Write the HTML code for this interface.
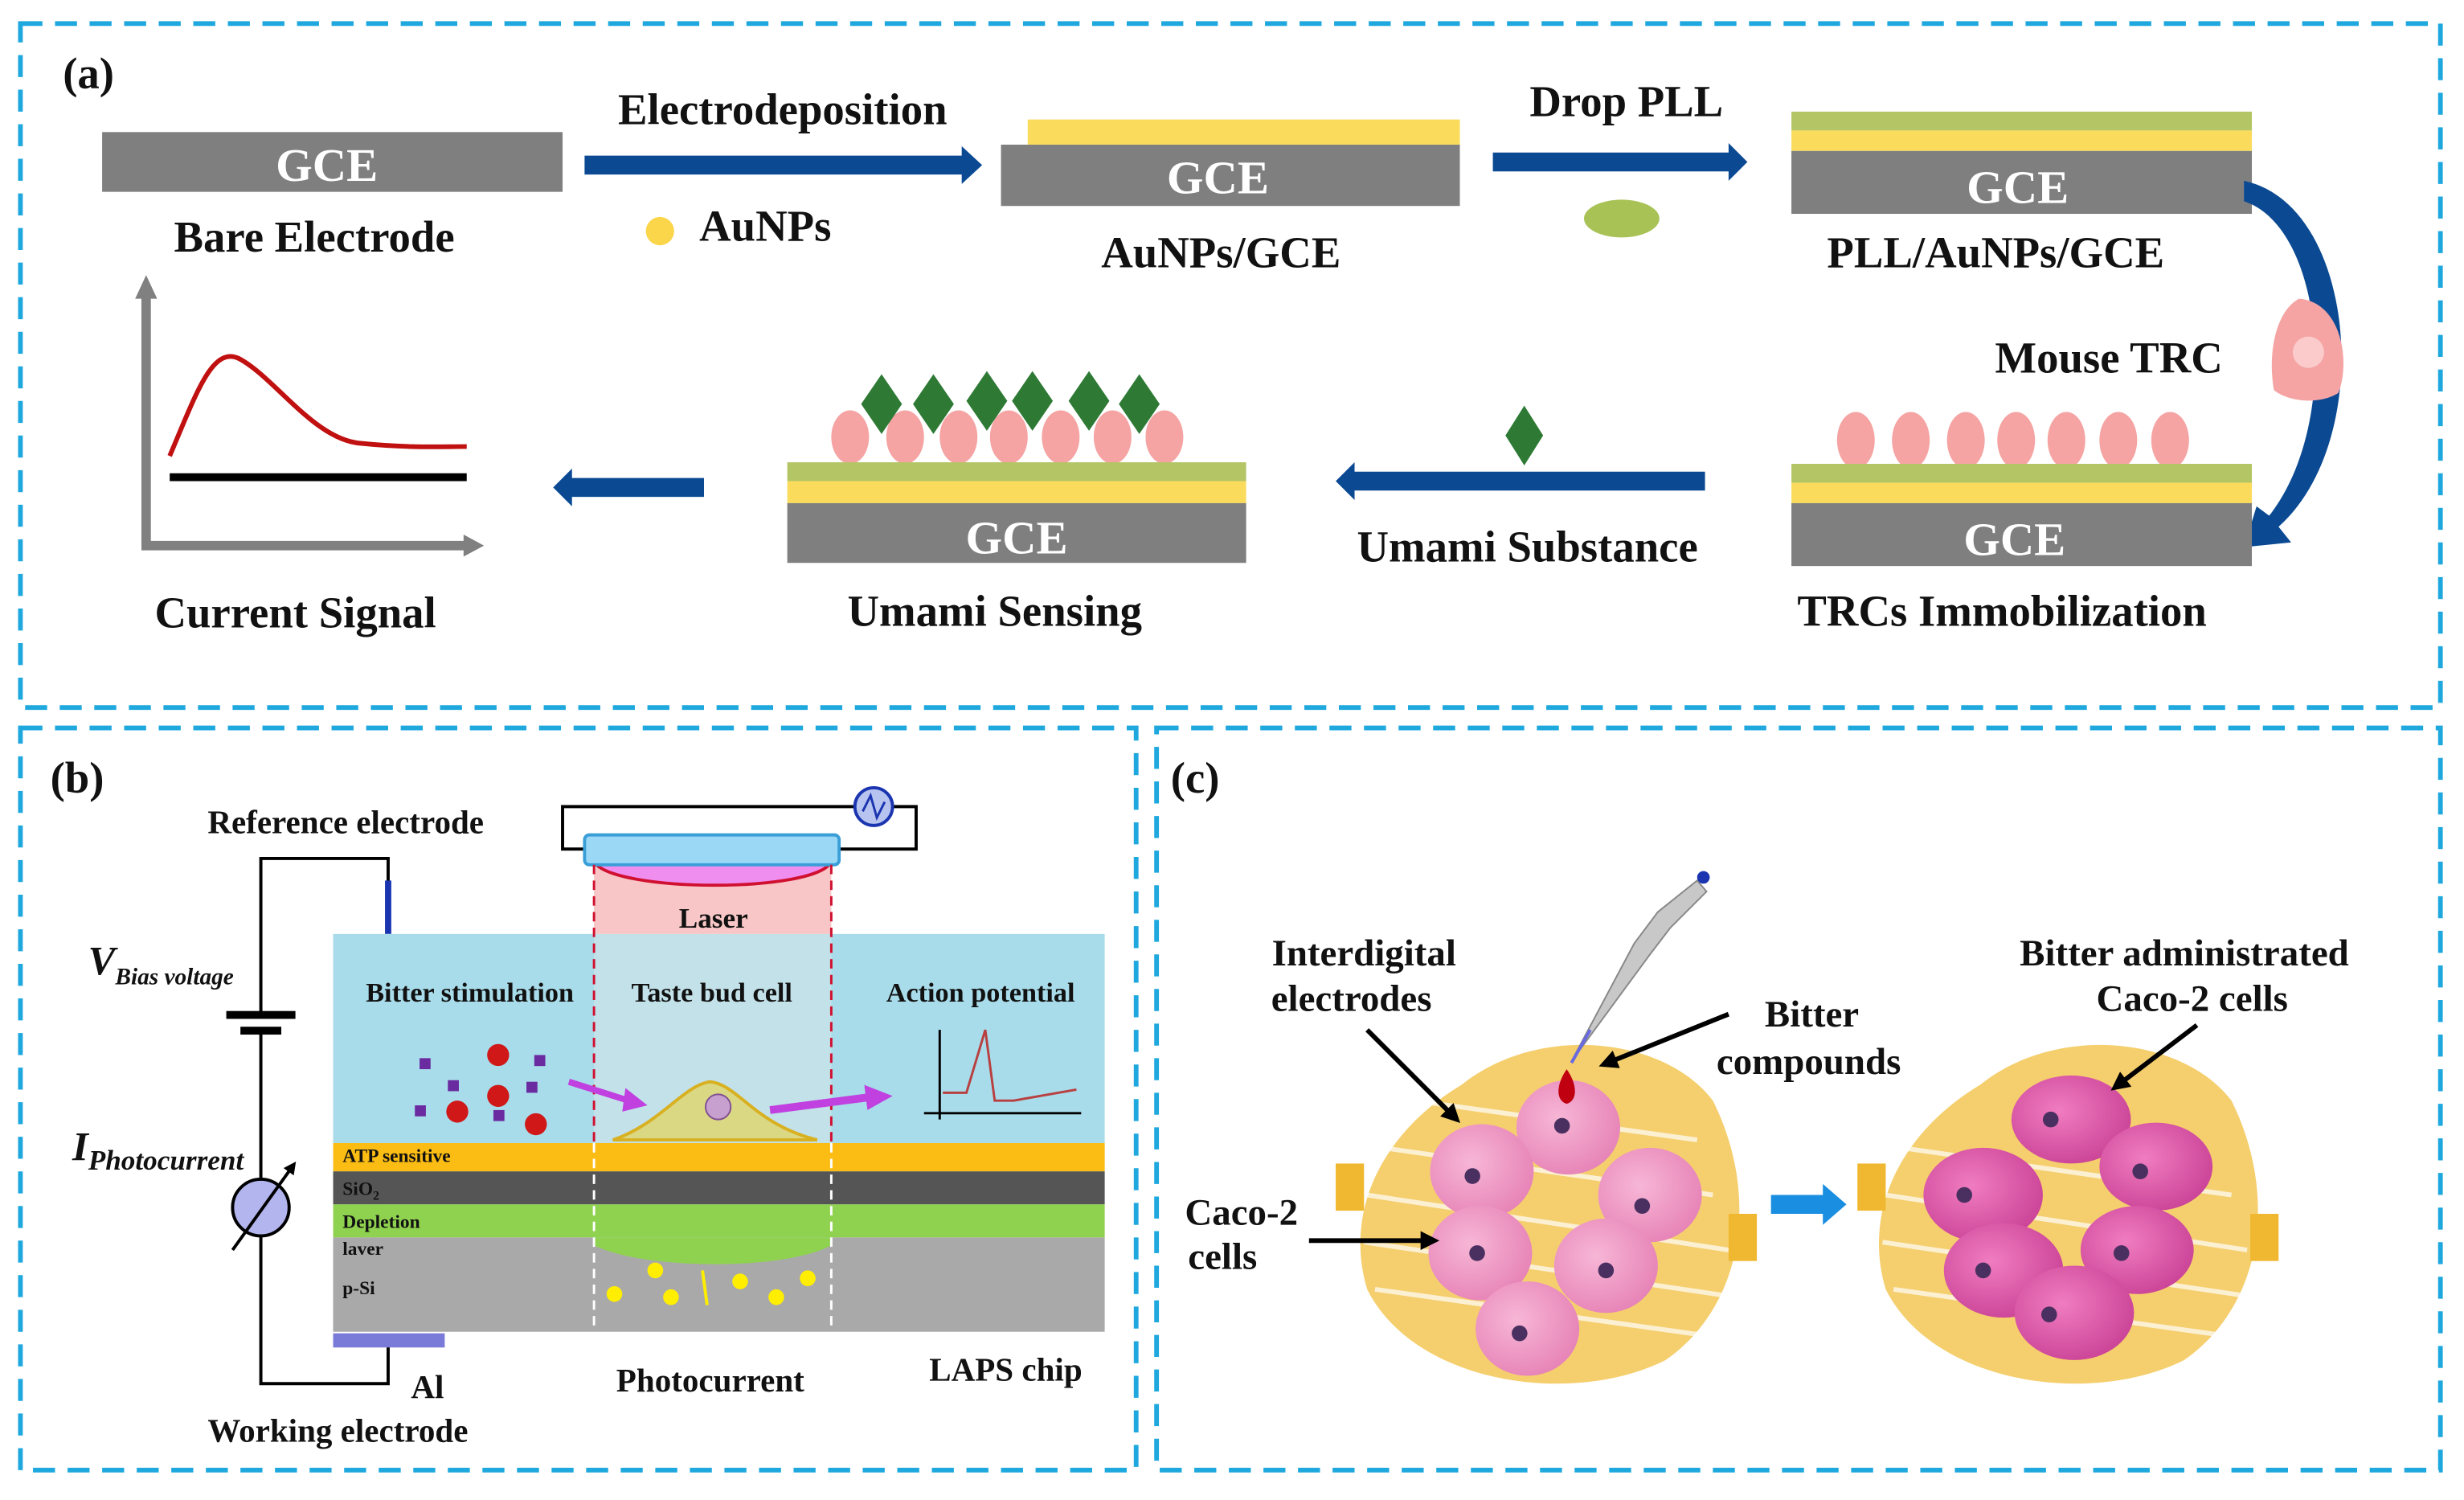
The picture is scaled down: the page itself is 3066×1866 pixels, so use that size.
<!DOCTYPE html>
<html><head><meta charset="utf-8"><style>html,body{margin:0;padding:0;background:#fff}svg{display:block}text{font-family:"Liberation Serif",serif;font-weight:bold;fill:#111}</style></head><body>
<svg width="3066" height="1866" viewBox="0 0 1568 954" preserveAspectRatio="none" xmlns="http://www.w3.org/2000/svg">
<defs>
<marker id="ah" markerWidth="4" markerHeight="4" refX="2" refY="2" orient="auto"><path d="M0,0 L4,2 L0,4z" fill="#000"/></marker>
<radialGradient id="cell" cx="0.4" cy="0.4" r="0.7"><stop offset="0" stop-color="#f7b6d6"/><stop offset="1" stop-color="#e57fb4"/></radialGradient>
<radialGradient id="cell2" cx="0.4" cy="0.4" r="0.7"><stop offset="0" stop-color="#f07cc0"/><stop offset="1" stop-color="#c83f94"/></radialGradient>
</defs>
<g fill="none" stroke="#1fa8de" stroke-width="3" stroke-dasharray="14 8">
<rect x="13" y="15" width="1540" height="435"/>
<rect x="13" y="463" width="710" height="472"/>
<rect x="736" y="463" width="817" height="472"/>
</g>
<!-- (a) -->
<text x="40" y="56" font-size="28">(a)</text>
<rect x="65" y="84" width="293" height="38" fill="#7f7f7f"/>
<text x="208" y="115" font-size="30" text-anchor="middle" style="fill:#fff">GCE</text>
<text x="200" y="160" font-size="28" text-anchor="middle">Bare Electrode</text>
<text x="498" y="79" font-size="28" text-anchor="middle">Electrodeposition</text>
<path d="M372,99 H612 V93 L625,105 L612,117 V111 H372z" fill="#0b4a93"/>
<circle cx="420" cy="147" r="9" fill="#fbd54a"/>
<text x="487" y="153" font-size="28" text-anchor="middle">AuNPs</text>
<rect x="654" y="76" width="275" height="16" fill="#fbdb5c"/>
<rect x="637" y="92" width="292" height="39" fill="#7f7f7f"/>
<text x="775" y="123" font-size="30" text-anchor="middle" style="fill:#fff">GCE</text>
<text x="777" y="170" font-size="28" text-anchor="middle">AuNPs/GCE</text>
<text x="1035" y="74" font-size="28" text-anchor="middle">Drop PLL</text>
<path d="M950,97 H1100 V91 L1112,103 L1100,115 V109 H950z" fill="#0b4a93"/>
<ellipse cx="1032" cy="139" rx="24" ry="12" fill="#a8c255"/>
<rect x="1140" y="71" width="293" height="12" fill="#b3c565"/>
<rect x="1140" y="83" width="293" height="13" fill="#fbdb5c"/>
<rect x="1140" y="96" width="293" height="40" fill="#7f7f7f"/>
<text x="1284" y="129" font-size="30" text-anchor="middle" style="fill:#fff">GCE</text>
<text x="1270" y="170" font-size="28" text-anchor="middle">PLL/AuNPs/GCE</text>
<path d="M1428,115 C1500,130 1512,280 1450,335 L1458,345 L1428,348 L1436,322 L1444,328 C1490,270 1480,145 1428,128z" fill="#0b4a93"/>
<text x="1342" y="237" font-size="28" text-anchor="middle">Mouse TRC</text>
<path d="M1463,190 C1490,192 1496,230 1488,250 C1475,258 1455,255 1447,248 C1443,225 1448,198 1463,190z" fill="#f5a3a3"/>
<circle cx="1469" cy="224" r="10" fill="#fbcaca"/>
<g fill="#f5a3a3">
<ellipse cx="1181" cy="280" rx="12" ry="18"/><ellipse cx="1216" cy="280" rx="12" ry="18"/><ellipse cx="1251" cy="280" rx="12" ry="18"/><ellipse cx="1283" cy="280" rx="12" ry="18"/><ellipse cx="1315" cy="280" rx="12" ry="18"/><ellipse cx="1348" cy="280" rx="12" ry="18"/><ellipse cx="1381" cy="280" rx="12" ry="18"/>
</g>
<rect x="1140" y="295" width="293" height="12" fill="#b3c565"/>
<rect x="1140" y="307" width="293" height="13" fill="#fbdb5c"/>
<rect x="1140" y="320" width="293" height="40" fill="#7f7f7f"/>
<text x="1282" y="353" font-size="30" text-anchor="middle" style="fill:#fff">GCE</text>
<text x="1274" y="398" font-size="28" text-anchor="middle">TRCs Immobilization</text>
<path d="M1085,300 H862 V294 L850,306 L862,318 V312 H1085z" fill="#0b4a93"/>
<path d="M970,258 L982,277 L970,296 L958,277z" fill="#2e7a35"/>
<text x="972" y="357" font-size="28" text-anchor="middle">Umami Substance</text>
<g fill="#f5a3a3">
<ellipse cx="541" cy="278" rx="12" ry="17"/><ellipse cx="576" cy="278" rx="12" ry="17"/><ellipse cx="610" cy="278" rx="12" ry="17"/><ellipse cx="642" cy="278" rx="12" ry="17"/><ellipse cx="675" cy="278" rx="12" ry="17"/><ellipse cx="708" cy="278" rx="12" ry="17"/><ellipse cx="741" cy="278" rx="12" ry="17"/>
</g>
<g fill="#2e7a35">
<path d="M561,238 L574,257 L561,276 L548,257z"/><path d="M594,238 L607,257 L594,276 L581,257z"/><path d="M628,236 L641,255 L628,274 L615,255z"/><path d="M657,236 L670,255 L657,274 L644,255z"/><path d="M693,236 L706,255 L693,274 L680,255z"/><path d="M725,238 L738,257 L725,276 L712,257z"/>
</g>
<rect x="501" y="294" width="292" height="12" fill="#b3c565"/>
<rect x="501" y="306" width="292" height="14" fill="#fbdb5c"/>
<rect x="501" y="320" width="292" height="38" fill="#7f7f7f"/>
<text x="647" y="352" font-size="30" text-anchor="middle" style="fill:#fff">GCE</text>
<text x="633" y="398" font-size="28" text-anchor="middle">Umami Sensing</text>
<path d="M448,304 H364 V298 L352,310 L364,322 V316 H448z" fill="#0b4a93"/>
<path d="M93,175 L100,190 H96 V344 H295 V340 L308,347 L295,354 V350 H90 V190 H86z" fill="#808080"/>
<path d="M108,290 C125,250 135,220 152,228 C175,240 200,280 230,282 C260,285 280,284 297,284" fill="none" stroke="#c01010" stroke-width="3"/>
<rect x="108" y="301" width="189" height="5" fill="#000"/>
<text x="188" y="399" font-size="28" text-anchor="middle">Current Signal</text>
<!-- (b) -->
<text x="32" y="504" font-size="28">(b)</text>
<text x="220" y="530" font-size="21" text-anchor="middle">Reference electrode</text>
<polyline points="247,562 247,546 166,546 166,645" fill="none" stroke="#000" stroke-width="2"/>
<line x1="247" y1="560" x2="247" y2="594" stroke="#1b35b0" stroke-width="4"/>
<rect x="144" y="643" width="44" height="5" fill="#000"/><rect x="153" y="653" width="26" height="5" fill="#000"/>
<polyline points="166,658 166,880 247,880 247,856" fill="none" stroke="#000" stroke-width="2"/>
<circle cx="166" cy="768" r="18" fill="#b3b5ef" stroke="#000" stroke-width="2"/>
<line x1="148" y1="795" x2="186" y2="742" stroke="#000" stroke-width="2" marker-end="url(#ah)"/>
<text x="56" y="620" font-size="26" font-style="italic">V<tspan font-size="15" dy="6">Bias voltage</tspan></text>
<text x="46" y="738" font-size="26" font-style="italic">I<tspan font-size="18" dy="6">Photocurrent</tspan></text>
<rect x="212" y="594" width="491" height="133" fill="#a8dcea"/>
<rect x="378" y="594" width="151" height="133" fill="#d6e4e8" opacity="0.6"/>
<rect x="212" y="727" width="491" height="18" fill="#fbbd14"/>
<rect x="212" y="745" width="491" height="21" fill="#555"/>
<rect x="212" y="766" width="491" height="21" fill="#8fd24f"/>
<rect x="212" y="787" width="491" height="60" fill="#a9a9a9"/>
<path d="M378,787 H529 V792 C500,808 410,808 378,792z" fill="#8fd24f"/>
<rect x="212" y="848" width="71" height="9" fill="#7a7ad8"/>
<text x="218" y="739" font-size="12">ATP sensitive</text>
<text x="218" y="760" font-size="12">SiO<tspan font-size="8" dy="3">2</tspan></text>
<text x="218" y="781" font-size="12">Depletion</text>
<text x="218" y="798" font-size="12">laver</text>
<text x="218" y="823" font-size="12">p-Si</text>
<rect x="378" y="550" width="151" height="44" fill="#f8c6c6"/>
<rect x="358" y="513" width="225" height="27" fill="none" stroke="#000" stroke-width="2"/>
<path d="M378,548 H529 C520,568 390,568 378,548z" fill="#f08ef0" stroke="#d01030" stroke-width="2"/>
<rect x="372" y="531" width="162" height="19" rx="3" fill="#9ad8f5" stroke="#3a9ed8" stroke-width="2"/>
<circle cx="556" cy="513" r="12" fill="#b8c4f0" stroke="#1b35b0" stroke-width="2"/>
<path d="M549,516 L554,506 L558,520 L563,510" fill="none" stroke="#1b35b0" stroke-width="1.5"/>
<text x="454" y="590" font-size="18" text-anchor="middle">Laser</text>
<g stroke-width="1.5" stroke-dasharray="6 4"><line x1="378" y1="550" x2="378" y2="727" stroke="#d01030"/><line x1="529" y1="550" x2="529" y2="727" stroke="#d01030"/><line x1="378" y1="727" x2="378" y2="847" stroke="#fff"/><line x1="529" y1="727" x2="529" y2="847" stroke="#fff"/></g>
<text x="299" y="637" font-size="17.5" text-anchor="middle">Bitter stimulation</text>
<text x="453" y="637" font-size="17.5" text-anchor="middle">Taste bud cell</text>
<text x="624" y="637" font-size="17.5" text-anchor="middle">Action potential</text>
<g fill="#d01818"><circle cx="317" cy="671" r="7"/><circle cx="317" cy="697" r="7"/><circle cx="291" cy="707" r="7"/><circle cx="341" cy="715" r="7"/></g>
<g fill="#6a2aa0"><rect x="267" y="673" width="7" height="7"/><rect x="340" y="671" width="7" height="7"/><rect x="285" y="687" width="7" height="7"/><rect x="335" y="688" width="7" height="7"/><rect x="264" y="703" width="7" height="7"/><rect x="314" y="706" width="7" height="7"/></g>
<path d="M362,688 L400,700" stroke="#c040e0" stroke-width="4"/><path d="M398,692 L412,703 L396,707z" fill="#c040e0"/>
<path d="M490,706 L552,698" stroke="#c040e0" stroke-width="5"/><path d="M550,690 L568,697 L552,706z" fill="#c040e0"/>
<path d="M390,725 C420,715 435,690 452,688 C470,690 480,715 520,725z" fill="#dbd884" stroke="#d8b020" stroke-width="2"/>
<circle cx="457" cy="704" r="8" fill="#c8a0d0" stroke="#805090"/>
<line x1="598" y1="655" x2="598" y2="712" stroke="#000" stroke-width="1.5"/>
<line x1="588" y1="708" x2="688" y2="708" stroke="#000" stroke-width="1.5"/>
<path d="M600,695 H615 L627,655 L633,700 H645 L685,693" fill="none" stroke="#b84040" stroke-width="1.5"/>
<g fill="#ffee00"><circle cx="391" cy="823" r="5"/><circle cx="417" cy="808" r="5"/><circle cx="427" cy="825" r="5"/><circle cx="471" cy="815" r="5"/><circle cx="494" cy="825" r="5"/><circle cx="514" cy="813" r="5"/></g>
<path d="M447,808 L450,830" stroke="#ffee00" stroke-width="2"/>
<text x="272" y="889" font-size="21" text-anchor="middle">Al</text>
<text x="215" y="917" font-size="21" text-anchor="middle">Working electrode</text>
<text x="452" y="885" font-size="21" text-anchor="middle">Photocurrent</text>
<text x="640" y="878" font-size="21" text-anchor="middle">LAPS chip</text>
<!-- (c) -->
<text x="745" y="504" font-size="28">(c)</text>
<g>
<path d="M930,690 C980,650 1060,660 1090,700 C1120,760 1110,830 1060,865 C1000,895 900,880 870,820 C855,770 880,720 930,690z" fill="#f5cf6e"/>
<g stroke="#fff" stroke-width="3" opacity="0.7"><line x1="880" y1="730" x2="1090" y2="760"/><line x1="870" y1="760" x2="1100" y2="795"/><line x1="868" y1="790" x2="1105" y2="825"/><line x1="875" y1="820" x2="1090" y2="850"/><line x1="900" y1="700" x2="1080" y2="725"/></g>
<rect x="850" y="740" width="18" height="30" fill="#f0b830"/><rect x="1100" y="772" width="18" height="30" fill="#f0b830"/>
<g fill="url(#cell)">
<ellipse cx="998" cy="717" rx="33" ry="30"/><ellipse cx="943" cy="745" rx="33" ry="30"/><ellipse cx="1050" cy="760" rx="33" ry="30"/><ellipse cx="942" cy="797" rx="33" ry="30"/><ellipse cx="1022" cy="805" rx="33" ry="30"/><ellipse cx="972" cy="845" rx="33" ry="30"/>
</g>
<g fill="#4a3060"><circle cx="994" cy="716" r="5"/><circle cx="937" cy="748" r="5"/><circle cx="1045" cy="767" r="5"/><circle cx="940" cy="797" r="5"/><circle cx="1022" cy="808" r="5"/><circle cx="967" cy="848" r="5"/></g>
<path d="M997,680 C990,690 990,700 997,702 C1004,700 1004,690 997,680z" fill="#c00010"/>
<path d="M1000,675 L1040,600 L1055,580 L1080,560 L1086,567 L1063,590 L1050,607z" fill="#c8c8c8" stroke="#888"/>
<circle cx="1084" cy="558" r="4" fill="#1b35b0"/>
<line x1="1000" y1="676" x2="1012" y2="655" stroke="#6a6ae0" stroke-width="2"/>
</g>
<text x="868" y="614" font-size="24" text-anchor="middle">Interdigital</text>
<text x="860" y="643" font-size="24" text-anchor="middle">electrodes</text>
<line x1="870" y1="655" x2="925" y2="710" stroke="#000" stroke-width="3" marker-end="url(#ah)"/>
<text x="1153" y="653" font-size="24" text-anchor="middle">Bitter</text>
<text x="1151" y="683" font-size="24" text-anchor="middle">compounds</text>
<line x1="1100" y1="645" x2="1023" y2="676" stroke="#000" stroke-width="3" marker-end="url(#ah)"/>
<text x="790" y="779" font-size="24" text-anchor="middle">Caco-2</text>
<text x="778" y="807" font-size="24" text-anchor="middle">cells</text>
<line x1="833" y1="789" x2="910" y2="789" stroke="#000" stroke-width="3" marker-end="url(#ah)"/>
<path d="M1127,760 H1160 V753 L1175,766 L1160,779 V772 H1127z" fill="#1a8ee0"/>
<g>
<path d="M1260,690 C1310,650 1390,660 1420,700 C1450,760 1440,830 1390,865 C1330,895 1230,880 1200,820 C1185,770 1210,720 1260,690z" fill="#f5cf6e"/>
<g stroke="#fff" stroke-width="3" opacity="0.7"><line x1="1210" y1="730" x2="1420" y2="760"/><line x1="1200" y1="760" x2="1430" y2="795"/><line x1="1198" y1="790" x2="1435" y2="825"/><line x1="1205" y1="820" x2="1420" y2="850"/></g>
<rect x="1182" y="740" width="18" height="30" fill="#f0b830"/><rect x="1432" y="772" width="18" height="30" fill="#f0b830"/>
<g fill="url(#cell2)">
<ellipse cx="1318" cy="712" rx="38" ry="28"/><ellipse cx="1262" cy="760" rx="38" ry="30"/><ellipse cx="1372" cy="742" rx="36" ry="28"/><ellipse cx="1275" cy="808" rx="38" ry="30"/><ellipse cx="1360" cy="795" rx="36" ry="28"/><ellipse cx="1320" cy="835" rx="38" ry="30"/>
</g>
<g fill="#4a3060"><circle cx="1305" cy="712" r="5"/><circle cx="1250" cy="760" r="5"/><circle cx="1362" cy="745" r="5"/><circle cx="1262" cy="808" r="5"/><circle cx="1350" cy="797" r="5"/><circle cx="1304" cy="836" r="5"/></g>
</g>
<text x="1390" y="614" font-size="24" text-anchor="middle">Bitter administrated</text>
<text x="1395" y="643" font-size="24" text-anchor="middle">Caco-2 cells</text>
<line x1="1398" y1="652" x2="1348" y2="690" stroke="#000" stroke-width="3" marker-end="url(#ah)"/>
</svg>
</body></html>
